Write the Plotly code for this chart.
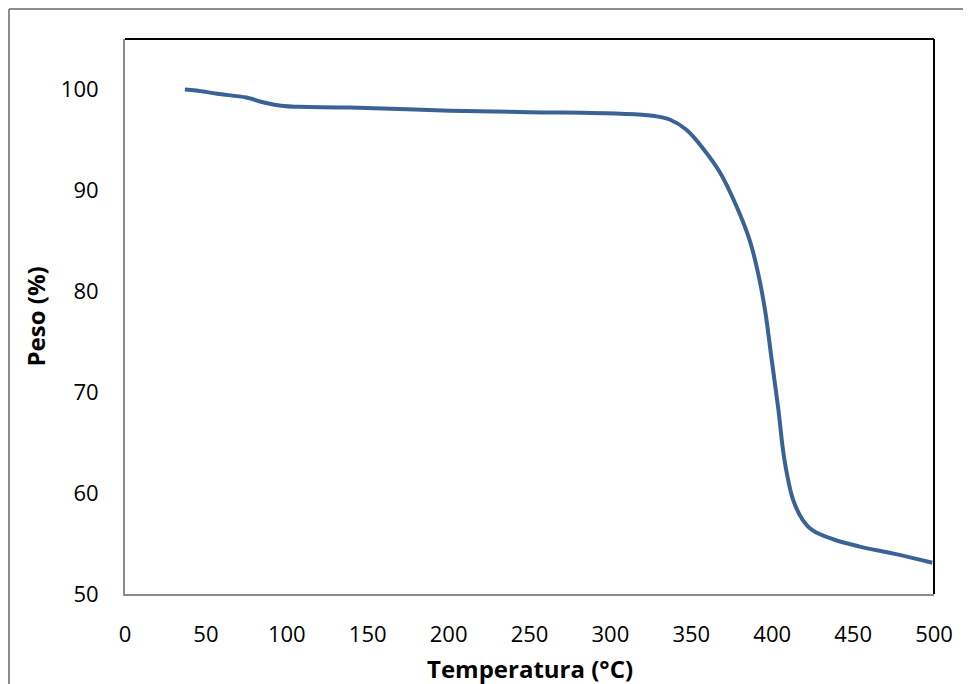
import plotly.graph_objects as go

temperatura = [37, 44, 57, 75, 86, 98, 108, 139, 201, 250, 306, 326, 337, 347, 357, 368, 378, 386,
               391, 395.5, 399.7, 403.8, 406.5, 409, 413, 419, 425, 438, 454, 475, 499]
peso = [100.0, 99.9, 99.57, 99.2, 98.7, 98.35, 98.28, 98.2, 97.9, 97.75, 97.6, 97.4, 97.0, 96.0,
        94.2, 91.7, 88.4, 85.1, 82.0, 78.2, 73.2, 68.3, 64.5, 62.0, 59.3, 57.3, 56.3, 55.4, 54.7,
        54.0, 53.1]

x_ticks = [0, 50, 100, 150, 200, 250, 300, 350, 400, 450, 500]
y_ticks = [50, 60, 70, 80, 90, 100]

fig = go.Figure()
fig.add_trace(go.Scatter(
    x=temperatura, y=peso, mode="lines",
    line=dict(color="#3a6297", width=4, shape="spline", smoothing=1.0),
    showlegend=False, hoverinfo="skip"))

font = "Open Sans, Noto Sans, sans-serif"
axis_common = dict(showgrid=False, zeroline=False, showline=True, linecolor="#8c8c8c",
                   linewidth=2, ticks="", tickfont=dict(family=font, size=22, color="#000000"))

bx0 = (9 - 125) / 809
bx1 = (990 - 125) / 809
by0 = -(720 - 594) / 555
by1 = 1 + (39 - 9) / 555

fig.update_layout(
    width=963, height=676,
    margin=dict(l=117, r=37, t=31, b=90),
    paper_bgcolor="white", plot_bgcolor="white",
    xaxis=dict(range=[0, 500], tickvals=x_ticks, ticklabelstandoff=20, **axis_common),
    yaxis=dict(range=[50, 105], tickvals=y_ticks, ticklabelstandoff=20, **axis_common),
    shapes=[
        # outer chart border (left and top edges visible)
        dict(type="line", xref="paper", yref="paper", x0=bx0, x1=bx0, y0=by0, y1=by1,
             line=dict(color="#8c8c8c", width=2), layer="below"),
        dict(type="line", xref="paper", yref="paper", x0=bx0, x1=bx1, y0=by1, y1=by1,
             line=dict(color="#8c8c8c", width=2), layer="below"),
        # top and right plot border
        dict(type="line", xref="paper", yref="paper", x0=0, x1=1, y0=1, y1=1,
             line=dict(color="#000000", width=2)),
        dict(type="line", xref="paper", yref="paper", x0=1, x1=1, y0=0, y1=1,
             line=dict(color="#000000", width=2)),
    ],
    annotations=[
        dict(text="<b>Temperatura (°C)</b>", xref="paper", yref="paper", x=0.5,
             y=-(668 - 594) / 555, xanchor="center", yanchor="middle", showarrow=False,
             font=dict(family=font, size=24, color="#000000")),
        dict(text="<b>Peso (%)</b>", xref="paper", yref="paper", x=(35 - 125) / 809,
             y=0.5, xanchor="center", yanchor="middle", showarrow=False, textangle=-90,
             font=dict(family=font, size=24, color="#000000")),
    ],
)

fig.write_html("out.html")
